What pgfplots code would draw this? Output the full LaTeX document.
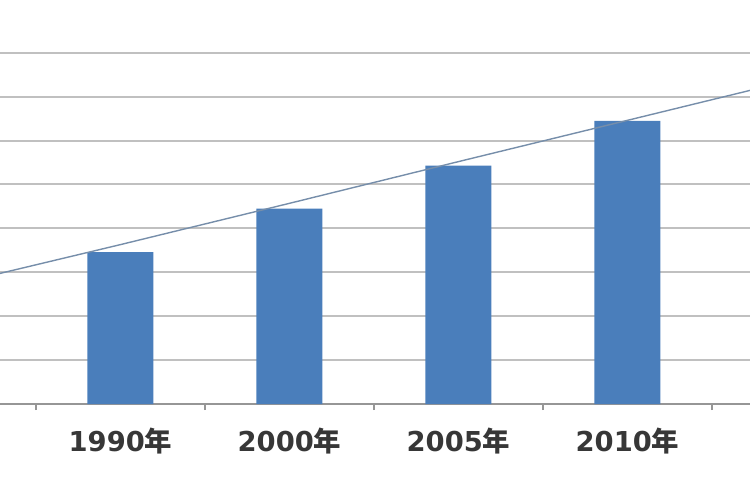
\documentclass[border=0pt]{standalone}
\usepackage{pgfplots}
\pgfplotsset{compat=1.18}
\usepackage{fontspec}
\setmainfont{DejaVu Sans}
\newfontfamily\cjk{Noto Sans CJK SC}

\definecolor{barblue}{RGB}{74,126,187}
\definecolor{linegray}{RGB}{118,142,170}
\definecolor{gridgray}{RGB}{192,192,192}
\definecolor{axisgray}{RGB}{150,150,150}
\definecolor{labelgray}{RGB}{55,55,55}

\newcommand{\yr}[1]{#1{\cjk\bfseries 年}}

\begin{document}
\begin{tikzpicture}
  \useasboundingbox (0,-96bp) rectangle (750bp,404bp);
  \clip (0,-96bp) rectangle (750bp,404bp);
  \begin{axis}[
      scale only axis,
      width=750bp,
      height=404bp,
      xmin=0.287, xmax=4.725,
      ymin=0, ymax=9.2,
      axis x line=bottom,
      axis y line=left,
      y axis line style={draw=none},
      x axis line style={axisgray, line width=1.6bp, -},
      xtick={0,...,5},
      xticklabels={\yr{1980},\yr{1990},\yr{2000},\yr{2005},\yr{2010},\yr{2015}},
      major x tick style={draw=none},
      minor xtick={0.5,1.5,2.5,3.5,4.5},
      minor tick length=6bp,
      minor x tick style={axisgray, line width=1.2bp},
      tick align=outside,
      xticklabel style={font=\fontsize{27.5}{30}\selectfont\bfseries, text=labelgray, yshift=-16bp},
      ytick={1,...,8},
      yticklabels={},
      major y tick style={draw=none},
      ymajorgrids,
      grid style={gridgray, line width=2bp},
      clip=true,
    ]
    \addplot[ybar, bar width=66bp, fill=barblue, draw=none]
      coordinates {(1,3.46) (2,4.45) (3,5.43) (4,6.45)};
    \addplot[linegray, line width=1.4bp, mark=none]
      coordinates {(0,2.71) (1,3.63) (2,4.57) (3,5.52) (4,6.46) (5,7.40)};
  \end{axis}
\end{tikzpicture}
\end{document}
